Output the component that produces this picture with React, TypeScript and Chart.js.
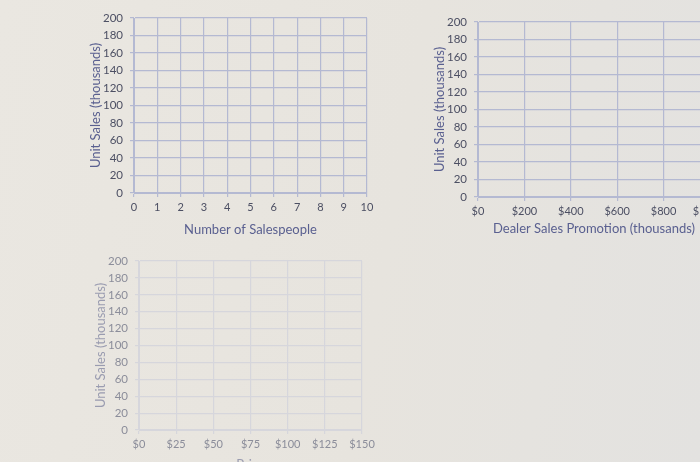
import { useEffect, useRef } from "react";
import { Chart, registerables, ChartConfiguration } from "chart.js";

Chart.register(...registerables);

// tick values
const unitSalesTicks = [0, 20, 40, 60, 80, 100, 120, 140, 160, 180, 200];
const salespeopleTicks = [0, 1, 2, 3, 4, 5, 6, 7, 8, 9, 10];
const promotionTicks = [0, 200, 400, 600, 800, 1000];
const promotionLabels = ["$0", "$200", "$400", "$600", "$800", "$1,000"];
const priceTicks = [0, 25, 50, 75, 100, 125, 150];
const priceLabels = ["$0", "$25", "$50", "$75", "$100", "$125", "$150"];

// the worksheet graphs are still blank: nothing plotted yet
const salespeopleSales: { x: number; y: number }[] = [];
const promotionSales: { x: number; y: number }[] = [];
const priceSales: { x: number; y: number }[] = [];

const FONT = "Lato, 'Open Sans', sans-serif";

interface GridChartProps {
  left: number;
  top: number;
  width: number;
  height: number;
  xAxisHeight: number;
  data: { x: number; y: number }[];
  xTicks: number[];
  xLabels?: string[];
  xTitle: string;
  gridColor: string;
  tickColor: string;
  titleColor: string;
}

function GridChart(props: GridChartProps) {
  const { left, top, width, height, xAxisHeight, data, xTicks, xLabels, xTitle, gridColor, tickColor, titleColor } =
    props;
  const chartRef = useRef<HTMLCanvasElement | null>(null);

  useEffect(() => {
    if (!chartRef.current) return;
    const config: ChartConfiguration = {
      type: "scatter",
      data: {
        datasets: [{ label: "Unit Sales", data, pointRadius: 3, backgroundColor: "#333" }],
      },
      options: {
        responsive: false,
        animation: false,
        layout: { padding: { top: 18, right: 28, bottom: 0, left: 0 } },
        plugins: { legend: { display: false }, tooltip: { enabled: false } },
        scales: {
          x: {
            type: "linear",
            min: xTicks[0],
            max: xTicks[xTicks.length - 1],
            afterBuildTicks: (scale) => {
              scale.ticks = xTicks.map((v) => ({ value: v }));
            },
            afterFit: (scale) => {
              scale.height = xAxisHeight;
            },
            ticks: {
              autoSkip: false,
              maxRotation: 0,
              color: tickColor,
              font: { family: FONT, size: 11 },
              padding: 4,
              callback: (value, index) => (xLabels ? xLabels[index] : String(value)),
            },
            grid: { color: gridColor, lineWidth: 1.2, tickLength: 4 },
            border: { color: gridColor },
            title: {
              display: true,
              text: xTitle,
              color: titleColor,
              font: { family: FONT, size: 13 },
              padding: { top: 0, bottom: 0 },
            },
          },
          y: {
            type: "linear",
            min: 0,
            max: 200,
            afterBuildTicks: (scale) => {
              scale.ticks = unitSalesTicks.map((v) => ({ value: v }));
            },
            afterFit: (scale) => {
              scale.width = 46;
            },
            ticks: {
              autoSkip: false,
              color: tickColor,
              font: { family: FONT, size: 11.5 },
              padding: 7,
            },
            grid: { color: gridColor, lineWidth: 1.2, tickLength: 4 },
            border: { color: gridColor },
            title: {
              display: true,
              text: "Unit Sales (thousands)",
              color: titleColor,
              font: { family: FONT, size: 13 },
              padding: { top: 0, bottom: 0 },
            },
          },
        },
      },
    };
    const chart = new Chart(chartRef.current, config);
    return () => {
      chart.destroy();
    };
  }, []);

  return (
    <canvas
      ref={chartRef}
      width={width}
      height={height}
      style={{ position: "absolute", left, top, width, height }}
    ></canvas>
  );
}

export default function App() {
  useEffect(() => {
    document.body.style.margin = "0";
    document.body.style.overflow = "hidden";
  }, []);

  return (
    <div
      style={{
        position: "relative",
        width: 700,
        height: 462,
        overflow: "hidden",
        background: "linear-gradient(100deg, #eae7e1 0%, #e7e4de 55%, #e3e2e0 100%)",
      }}
    >
      <GridChart
        left={88}
        top={0}
        width={307}
        height={238}
        xAxisHeight={45}
        data={salespeopleSales}
        xTicks={salespeopleTicks}
        xTitle="Number of Salespeople"
        gridColor="#b4b9d2"
        tickColor="#4c4f63"
        titleColor="#5a6090"
      />
      <GridChart
        left={432}
        top={4}
        width={306}
        height={233}
        xAxisHeight={40}
        data={promotionSales}
        xTicks={promotionTicks}
        xLabels={promotionLabels}
        xTitle="Dealer Sales Promotion (thousands)"
        gridColor="#b4b9d2"
        tickColor="#4c4f63"
        titleColor="#5a6090"
      />
      <GridChart
        left={93}
        top={243}
        width={297}
        height={230}
        xAxisHeight={43}
        data={priceSales}
        xTicks={priceTicks}
        xLabels={priceLabels}
        xTitle="Price"
        gridColor="#d6d6dc"
        tickColor="#8b8d9a"
        titleColor="#9a9cb0"
      />
    </div>
  );
}
